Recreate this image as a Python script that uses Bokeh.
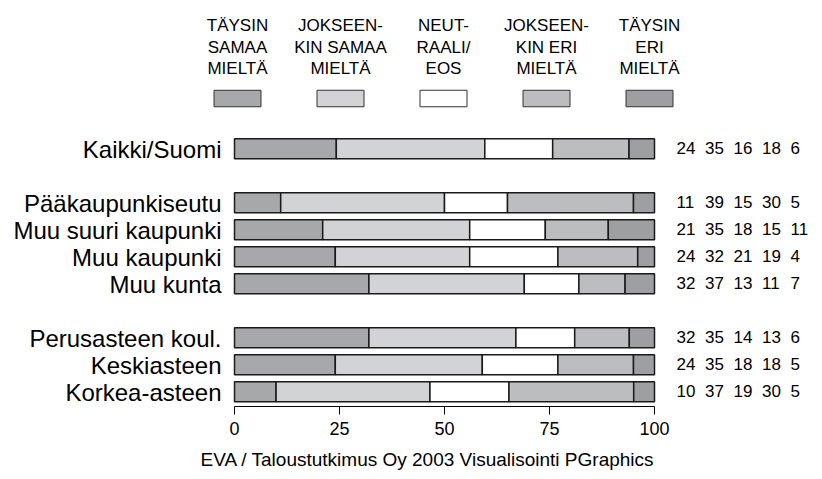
import numpy as np
from bokeh.plotting import figure
from bokeh.models import Range1d, FixedTicker, Title
from bokeh.core.properties import value
from bokeh.embed import file_html
from bokeh.resources import INLINE

# ---------------- data ----------------
groups = [
    ["Kaikki/Suomi"],
    ["Pääkaupunkiseutu", "Muu suuri kaupunki", "Muu kaupunki", "Muu kunta"],
    ["Perusasteen koul.", "Keskiasteen", "Korkea-asteen"],
]
taysin_samaa = [24, 11, 21, 24, 32, 32, 24, 10]
jokseenkin_samaa = [35, 39, 35, 32, 37, 35, 35, 37]
neutraali = [16, 15, 18, 21, 13, 14, 18, 19]
jokseenkin_eri = [18, 30, 15, 19, 11, 13, 18, 30]
taysin_eri = [6, 5, 11, 4, 7, 6, 5, 5]
series = [taysin_samaa, jokseenkin_samaa, neutraali, jokseenkin_eri, taysin_eri]
series_labels = [
    "TÄYSIN\nSAMAA\nMIELTÄ",
    "JOKSEEN-\nKIN SAMAA\nMIELTÄ",
    "NEUT-\nRAALI/\nEOS",
    "JOKSEEN-\nKIN ERI\nMIELTÄ",
    "TÄYSIN\nERI\nMIELTÄ",
]
colors = ["#A7A8AA", "#D2D3D5", "#FFFFFF", "#BCBDBF", "#9E9FA1"]
x_ticks = [0, 25, 50, 75, 100]
footer = "EVA / Taloustutkimus Oy 2003  Visualisointi PGraphics"

FONT = "Liberation Sans"

# ---------------- layout ----------------
W, H = 822, 479
PX = 4.2            # pixels per percent unit
X0 = 234            # canvas x of value 0
ROW = 27.0          # pixels per row slot
TOP_CENTER = 148.3  # canvas y of first row centre
FRAME_H = 406

categories, rows = [], []
pos = 0
for g in groups:
    for c in g:
        categories.append(c)
        rows.append(pos)
        pos += 1
    pos += 1

y_top = -TOP_CENTER / ROW
y_bottom = y_top + FRAME_H / ROW

p = figure(
    width=W, height=H,
    x_range=Range1d(-X0 / PX, (W - X0) / PX),
    y_range=Range1d(y_bottom, y_top),
    output_backend="svg", toolbar_location=None,
    y_axis_location=None,
    min_border_left=0, min_border_right=0, min_border_top=0,
    min_border_bottom=H - FRAME_H,
)
p.outline_line_color = None
p.xgrid.visible = False
p.ygrid.visible = False
p.background_fill_color = "white"
p.border_fill_color = "white"

xa = p.xaxis[0]
xa.ticker = FixedTicker(ticks=x_ticks)
xa.bounds = (0, 100)
xa.axis_line_color = "black"
xa.axis_line_width = 1
xa.major_tick_line_color = "black"
xa.major_tick_in = 0
xa.major_tick_out = 8
xa.minor_tick_line_color = None
xa.major_label_text_font = FONT
xa.major_label_text_font_size = "18px"
xa.major_label_text_color = "black"
xa.major_label_standoff = 7

# ---------------- bars ----------------
totals = np.sum(np.array(series, dtype=float), axis=0)
left = np.zeros(len(rows))
for vals, col in zip(series, colors):
    w = np.array(vals, dtype=float) / totals * 100.0
    p.hbar(y=rows, left=left, right=left + w, height=20 / ROW,
           fill_color=col, line_color="#1a1a1a", line_width=1.5)
    left = left + w

# category labels
p.text(x=-13 / PX, y=[r + 0.5 / ROW for r in rows], text=categories,
       text_align="right", text_baseline="middle", text_font=value(FONT),
       text_font_size="24px", text_color="black")

# numbers at right
for i, vals in enumerate(series):
    p.text(x=[(442 + 28.5 * i) / PX] * len(rows),
           y=[r - 0.5 / ROW for r in rows],
           text=[str(v) for v in vals], text_align="left",
           text_baseline="middle", text_font=value(FONT),
           text_font_size="17px", text_color="black")

# ---------------- legend ----------------
leg_x = np.linspace(3 / PX, 415 / PX, len(series_labels))
sw_y = (98 - TOP_CENTER) / ROW
p.rect(x=leg_x, y=[sw_y] * len(leg_x), width=47 / PX, height=16.5 / ROW,
       fill_color=colors, line_color="#333333", line_width=1)
lx, ly, lt = [], [], []
for cx, lab in zip(leg_x, series_labels):
    for j, line in enumerate(lab.split("\n")):
        lx.append(cx)
        ly.append((25 + 21.65 * j - TOP_CENTER) / ROW)
        lt.append(line)
p.text(x=lx, y=ly, text=lt, text_align="center", text_baseline="alphabetic",
       text_font=value(FONT), text_font_size="17px", text_color="black")

# ---------------- footer ----------------
p.add_layout(Title(text=footer, align="left", offset=200,
                   text_font=FONT, text_font_size="19px",
                   text_font_style="normal", text_color="black",
                   standoff=19), "below")

open("out.html", "w").write(file_html(p, INLINE))
